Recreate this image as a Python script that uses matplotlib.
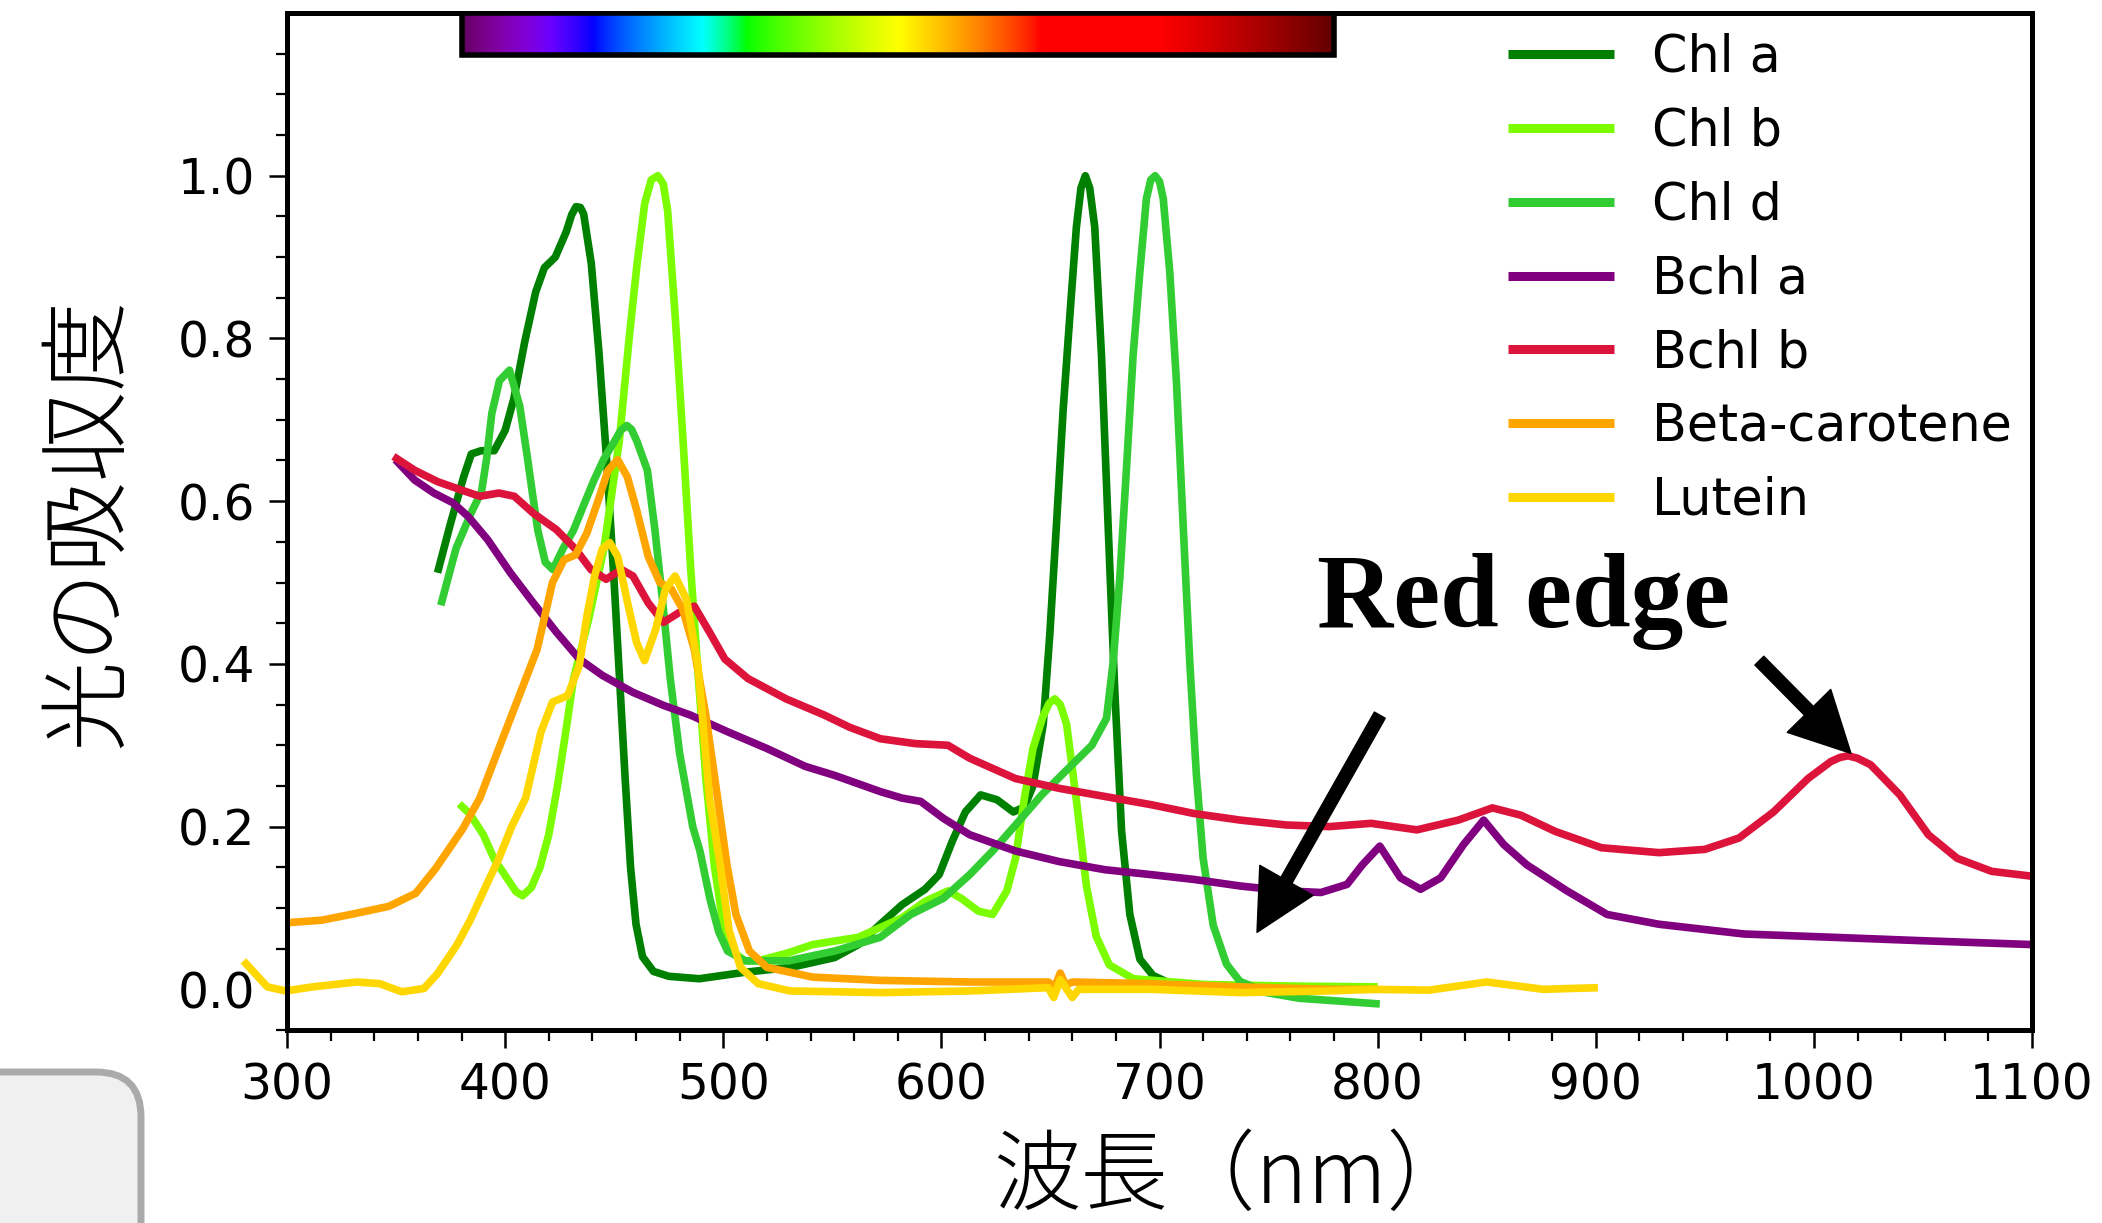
import matplotlib
matplotlib.use('Agg')
import matplotlib.pyplot as plt
import numpy as np
from matplotlib.patches import Rectangle, FancyBboxPatch
from matplotlib.transforms import IdentityTransform

# ---- data (wavelength nm, absorbance) ----
chl_a_nm = [369, 375, 381, 384.5, 389, 395, 400, 404, 409, 414, 418, 423, 428, 430.5, 432.5, 434.5,
            436, 439.5, 443, 446.5, 450, 452.5, 455, 457.5, 460, 463, 468, 475, 489, 510, 531, 551,
            562, 572, 582, 592.5, 599, 605, 611, 618, 625.5, 633, 638, 642, 646.7, 649.7, 652.8,
            655.8, 658.9, 661.9, 664, 666, 668, 670.3, 673.4, 676.4, 679.5, 682.6, 686.4, 691, 697,
            706, 750]
chl_a_abs = [0.512, 0.573, 0.630, 0.658, 0.662, 0.662, 0.687, 0.726, 0.796, 0.857, 0.887, 0.900,
             0.931, 0.952, 0.962, 0.961, 0.953, 0.892, 0.783, 0.652, 0.499, 0.38, 0.26, 0.15, 0.08,
             0.04, 0.022, 0.016, 0.013, 0.021, 0.027, 0.039, 0.055, 0.080, 0.104, 0.123, 0.141,
             0.182, 0.218, 0.239, 0.233, 0.218, 0.224, 0.250, 0.326, 0.436, 0.573, 0.711, 0.828,
             0.937, 0.985, 1.0, 0.985, 0.937, 0.779, 0.573, 0.367, 0.195, 0.092, 0.037, 0.017,
             0.006, 0.002]

chl_b_nm = [379, 384, 390, 395, 400, 405, 408, 412, 416, 420, 424, 428, 431.3, 438.3, 445.3, 452.3,
            457, 460.5, 464, 467, 470, 472.5, 474.5, 478, 481.6, 485, 488.6, 492, 496, 500, 505,
            510, 516, 530, 541, 562, 582, 592.5, 603, 609, 617, 623.5, 630, 634, 638, 642, 646.5,
            649.5, 652, 654.5, 657.4, 662, 666.5, 671, 677, 688, 720, 760, 800]
chl_b_abs = [0.228, 0.215, 0.19, 0.16, 0.14, 0.12, 0.115, 0.125, 0.15, 0.19, 0.25, 0.32, 0.381, 0.455,
             0.542, 0.673, 0.804, 0.892, 0.966, 0.995, 1.0, 0.99, 0.957, 0.826, 0.673, 0.520, 0.382,
             0.26, 0.15, 0.08, 0.045, 0.035, 0.035, 0.045, 0.055, 0.064, 0.088, 0.108, 0.121,
             0.112, 0.096, 0.092, 0.121, 0.161, 0.234, 0.296, 0.335, 0.352, 0.357, 0.350, 0.326,
             0.230, 0.127, 0.065, 0.030, 0.013, 0.006, 0.004, 0.003]

chl_d_nm = [370.5, 374, 377.5, 384.5, 389.2, 391.5, 393.9, 397.4, 402, 406.7, 410.3, 412.6, 415,
            418.4, 421.9, 426.6, 431.3, 436, 440.6, 445.3, 450, 453, 455.8, 458, 460.5, 465.2,
            468.7, 472.2, 475.7, 480, 486, 489.3, 494, 498, 502, 510, 530, 551, 572, 586, 601, 613,
            623.5, 634, 646, 656.5, 669, 675.7, 678.7, 681.8, 684.9, 687.9, 691, 694, 696, 698,
            700, 701.7, 704.7, 707.8, 710.8, 713.9, 716.9, 720, 724.6, 730.7, 736.8, 749, 764, 780,
            801]
chl_d_abs = [0.472, 0.507, 0.542, 0.586, 0.612, 0.652, 0.708, 0.748, 0.761, 0.717, 0.652, 0.608,
             0.564, 0.525, 0.516, 0.542, 0.564, 0.595, 0.625, 0.652, 0.673, 0.687, 0.693, 0.688,
             0.673, 0.638, 0.564, 0.477, 0.382, 0.29, 0.2, 0.17, 0.11, 0.07, 0.047, 0.035, 0.035,
             0.047, 0.064, 0.092, 0.112, 0.141, 0.170, 0.202, 0.239, 0.267, 0.300, 0.333, 0.401,
             0.505, 0.642, 0.779, 0.882, 0.972, 0.995, 1.0, 0.993, 0.972, 0.882, 0.745, 0.573,
             0.401, 0.264, 0.161, 0.079, 0.031, 0.010, -0.004, -0.011, -0.014, -0.018]

bchl_a_nm = [349.7, 358.5, 367.3, 376.1, 383.1, 391.9, 402.4, 412.9, 423.5, 434, 444.5, 458.6, 472.6,
             485, 502.5, 520, 537.6, 551, 572, 582, 590.5, 601, 613, 634, 654, 675, 696, 716, 737,
             758, 774, 786, 793, 801, 810.5, 819.7, 828.9, 839.4, 848.6, 857.8, 868.4, 886.8,
             905.2, 928.9, 968, 1008, 1047, 1100]
bchl_a_abs = [0.651, 0.626, 0.610, 0.598, 0.581, 0.553, 0.512, 0.475, 0.439, 0.406, 0.386, 0.365,
              0.349, 0.337, 0.316, 0.296, 0.274, 0.263, 0.243, 0.235, 0.231, 0.210, 0.190, 0.170,
              0.157, 0.147, 0.141, 0.135, 0.127, 0.121, 0.119, 0.129, 0.153, 0.176, 0.137, 0.123,
              0.137, 0.178, 0.208, 0.178, 0.153, 0.121, 0.092, 0.080, 0.068, 0.064, 0.060, 0.055]

bchl_b_nm = [348.8, 358.5, 369, 379.6, 388.4, 397.1, 404.2, 413, 423.5, 432.3, 439.3, 446.3, 453.3,
             458.6, 465.6, 472.6, 479.7, 486.7, 493.7, 500.7, 511.3, 528.8, 546.4, 558, 572, 588,
             603, 613, 634, 654, 675, 696, 716, 737, 758, 778, 797, 818, 837, 852.6, 865.7, 881.5,
             902.6, 929, 950, 965.7, 981.5, 997.3, 1007.8, 1012, 1015.7, 1020, 1026, 1039.4,
             1052.5, 1065.7, 1081.5, 1100]
bchl_b_abs = [0.655, 0.638, 0.624, 0.614, 0.606, 0.610, 0.606, 0.585, 0.565, 0.541, 0.516, 0.504,
              0.516, 0.508, 0.475, 0.451, 0.463, 0.471, 0.439, 0.406, 0.382, 0.357, 0.337, 0.322,
              0.308, 0.302, 0.300, 0.284, 0.259, 0.247, 0.237, 0.227, 0.216, 0.208, 0.202, 0.200,
              0.204, 0.196, 0.208, 0.223, 0.214, 0.194, 0.174, 0.168, 0.172, 0.186, 0.218, 0.259,
              0.280, 0.285, 0.287, 0.284, 0.276, 0.239, 0.190, 0.161, 0.145, 0.139]

beta_nm = [301, 316, 331, 346.7, 359, 368, 380.5, 388.4, 397.1, 405.9, 414.7, 421.7, 427, 432.3,
           437.5, 442.8, 447.2, 451.6, 456, 460.3, 465.6, 470.9, 476.2, 481.4, 486.7, 492, 497.4,
           501.7, 505.8, 512, 520, 541, 572, 613, 649, 652, 654.5, 657, 660, 695, 737, 778, 800]
beta_abs = [0.082, 0.085, 0.093, 0.102, 0.118, 0.148, 0.197, 0.235, 0.296, 0.357, 0.418, 0.500,
            0.528, 0.534, 0.561, 0.602, 0.638, 0.651, 0.630, 0.589, 0.532, 0.500, 0.492, 0.467,
            0.418, 0.337, 0.235, 0.153, 0.092, 0.047, 0.027, 0.015, 0.011, 0.009, 0.009, 0.003,
            0.02, 0.005, 0.009, 0.007, 0.003, 0.0, 0.0]

lutein_nm = [280, 291, 299.4, 311.7, 332, 342.4, 352.6, 362.8, 368.9, 373, 378, 384, 390, 397, 403,
             409.4, 416.4, 421.7, 428.7, 434, 437.5, 441, 444.5, 448, 451.6, 456.8, 460.3, 463.9,
             469.1, 473.5, 477.9, 483.2, 488.4, 493.7, 498.6, 502.7, 507.9, 516, 530.6, 572, 613,
             649, 651.5, 654.5, 660, 663, 696, 737, 778, 797, 823.6, 850, 876, 901]
lutein_abs = [0.035, 0.003, -0.002, 0.003, 0.009, 0.007, -0.003, 0.001, 0.019, 0.035, 0.055, 0.085,
              0.12, 0.16, 0.20, 0.235, 0.316, 0.353, 0.361, 0.398, 0.459, 0.508, 0.541, 0.549, 0.532,
              0.467, 0.426, 0.404, 0.443, 0.492, 0.508, 0.479, 0.398, 0.235, 0.153, 0.072, 0.027,
              0.007, -0.002, -0.004, -0.002, 0.002, -0.01, 0.012, -0.01, 0.0, 0.0, -0.004, -0.002,
              0.0, -0.001, 0.009, 0.0, 0.002]

series = [
    ('Chl a', chl_a_nm, chl_a_abs, 'green'),
    ('Chl b', chl_b_nm, chl_b_abs, 'lawngreen'),
    ('Chl d', chl_d_nm, chl_d_abs, 'limegreen'),
    ('Bchl a', bchl_a_nm, bchl_a_abs, 'purple'),
    ('Bchl b', bchl_b_nm, bchl_b_abs, 'crimson'),
    ('Beta-carotene', beta_nm, beta_abs, 'orange'),
    ('Lutein', lutein_nm, lutein_abs, 'gold'),
]

spectrum_range = (380, 780)


def wavelength_to_rgb(w):
    # visible spectrum colour for the strip on top
    if w < 440:
        r, g, b = -(w - 440) / 60, 0.0, 1.0
    elif w < 490:
        r, g, b = 0.0, (w - 440) / 50, 1.0
    elif w < 510:
        r, g, b = 0.0, 1.0, -(w - 510) / 20
    elif w < 580:
        r, g, b = (w - 510) / 70, 1.0, 0.0
    elif w < 645:
        r, g, b = 1.0, -(w - 645) / 65, 0.0
    else:
        r, g, b = 1.0, 0.0, 0.0
    if w < 420:
        f = 0.3 + 0.7 * (w - 380) / 40
    elif w > 700:
        f = 0.3 + 0.7 * (780 - w) / 80
    else:
        f = 1.0
    return [(c * f) ** 0.8 for c in (r, g, b)]


cjk = ['Noto Sans CJK JP', 'DejaVu Sans']

fig = plt.figure(figsize=(21.02, 12.23), dpi=100)
ax = fig.add_axes([0.13654, 0.15781, 0.83016, 0.83156])

for name, x, y, c in series:
    ax.plot(x, y, color=c, lw=5.5, label=name, clip_on=False,
            solid_joinstyle='round', solid_capstyle='butt')

ax.set_xticks(np.arange(300, 1101, 100))
ax.set_xticks(np.arange(300, 1101, 20), minor=True)
ax.set_yticks([0.0, 0.2, 0.4, 0.6, 0.8, 1.0])
ax.set_yticks(np.arange(-0.05, 1.2, 0.05), minor=True)
ax.tick_params(which='major', direction='out', length=13, width=1.8, labelsize=35, pad=10)
ax.tick_params(which='minor', direction='out', length=8, width=1.6)
for s in ax.spines.values():
    s.set_linewidth(3.6)

# spectrum strip
wl = np.linspace(spectrum_range[0], spectrum_range[1], 400)
strip = np.array([wavelength_to_rgb(w) for w in wl])[np.newaxis, :, :]
ax.imshow(strip, extent=[spectrum_range[0], spectrum_range[1], 1.148, 1.2], aspect='auto', zorder=5)
ax.add_patch(Rectangle((spectrum_range[0], 1.148), spectrum_range[1] - spectrum_range[0], 0.052,
                       fill=False, edgecolor='black', lw=4, zorder=6))
ax.set_xlim(300, 1100)
ax.set_ylim(-0.05, 1.2)

leg = ax.legend(loc='upper right', frameon=False, fontsize=36.5, handlelength=2.1,
                handletextpad=0.75, labelspacing=0.47, borderaxespad=0.12, borderpad=0.27)
for line in leg.get_lines():
    line.set_linewidth(6.5)

ax.text(772.4, 0.445, 'Red edge', family='Liberation Serif', fontweight='bold', fontsize=76,
        ha='left', va='baseline')

arrow = dict(facecolor='black', edgecolor='black', width=9, headwidth=44, headlength=43, shrink=0)
ax.annotate('', xy=(744.7, 0.07), xytext=(801, 0.337), arrowprops=arrow)
ax.annotate('', xy=(1017, 0.29), xytext=(975, 0.404), arrowprops=arrow)

fig.text(88 / 2102, 1 - 522 / 1223, '光の吸収度', rotation=90, family=cjk, fontweight='light',
         fontsize=65, ha='center', va='center')
fig.text(0.5868, 0.037, '波長（nm）', family=cjk, fontweight='light', fontsize=63,
         ha='center', va='center')

# grey rounded box peeking in at bottom left
fig.patches.append(FancyBboxPatch((-200, -200), 341, 351, boxstyle='round,pad=0,rounding_size=45',
                                  transform=IdentityTransform(), facecolor='#f0f0f0',
                                  edgecolor='#aaaaaa', lw=5, figure=fig))

fig.savefig('out.png', dpi=100)
